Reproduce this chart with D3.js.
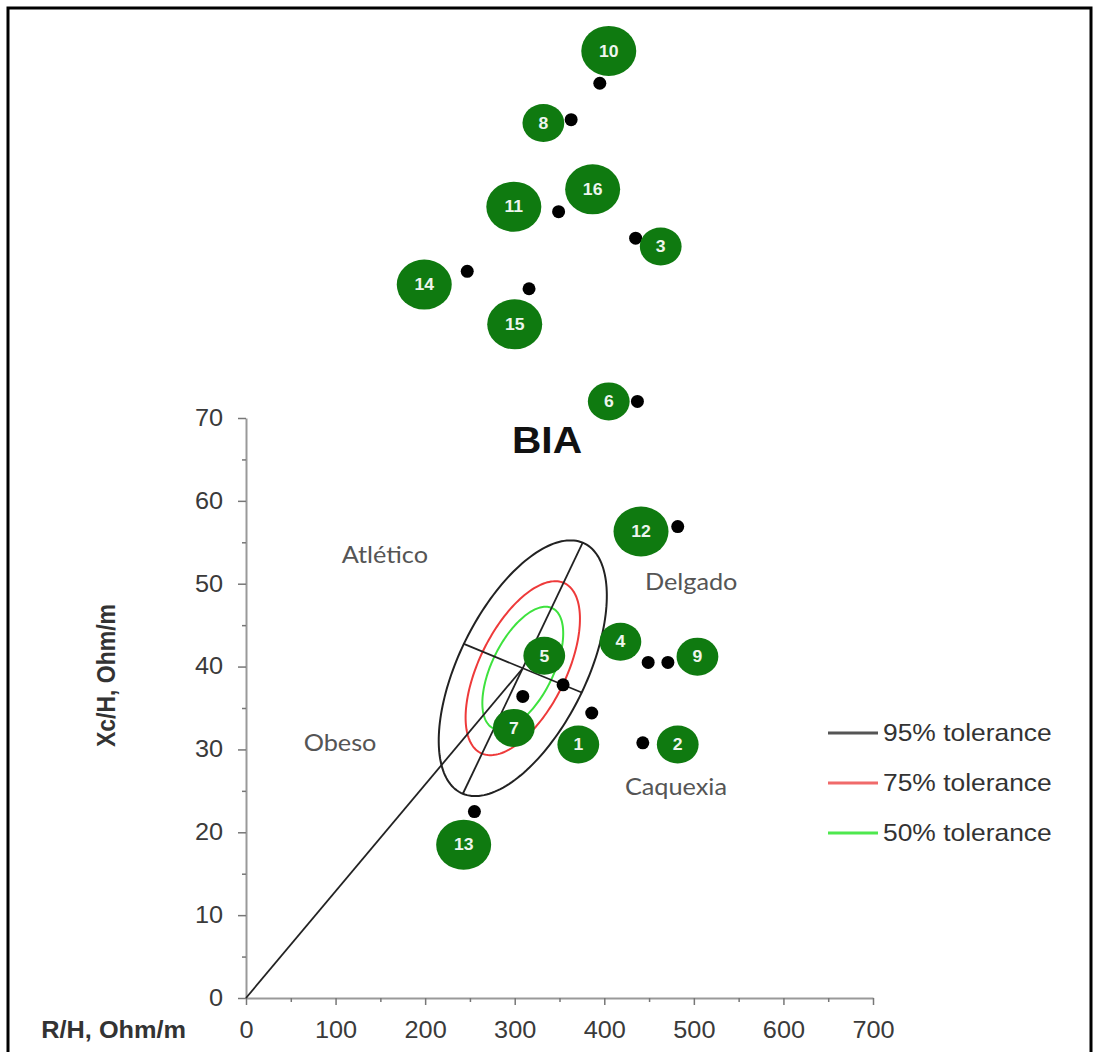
<!DOCTYPE html>
<html>
<head>
<meta charset="utf-8">
<script src="https://cdn.jsdelivr.net/npm/d3@7"></script>
<style>
  body { margin: 0; background: #fff; }
  text { font-family: "Liberation Sans", Arial, sans-serif; }
</style>
</head>
<body>
<div id="chart"></div>
<script>
// BIVA point graph: R/H vs Xc/H per patient, with tolerance ellipses

// measured points (black dots), patient 16 has no visible dot
const patientIds = [1, 2, 3, 4, 5, 6, 7, 8, 9, 10, 11, 12, 13, 14, 15, 16];
const dotRH  = [386, 443, 435, 449, 354, 437, 309, 363, 471, 395, 349, 482, 255, 247, 316, null];
const dotXcH = [34.4, 30.8, 91.7, 40.5, 37.8, 72.0, 36.4, 106.0, 40.5, 110.4, 94.9, 56.9, 22.5, 87.7, 85.6, null];

// where each numbered badge sits (data units)
const labelRH  = [371, 482, 463, 418, 333, 405, 299, 332, 504, 405, 299, 441, 243, 199, 300, 387];
const labelXcH = [30.6, 30.6, 90.7, 43.0, 41.3, 72.0, 32.6, 105.6, 41.2, 114.3, 95.5, 56.3, 18.5, 86.1, 81.3, 97.6];

// reference ellipse (95%), center and conjugate semi-axis end points
const ellipseCenter = [309, 39.8];
const majorAxisEnd = [375.9, 54.95];
const minorAxisEnd = [374.8, 36.87];
const toleranceLevels = [0.95, 0.75, 0.5];
const toleranceNames = ['95% tolerance', '75% tolerance', '50% tolerance'];

// zones
const zoneNames = ['Atlético', 'Delgado', 'Obeso', 'Caquexia'];
const zoneRH  = [155, 497, 105, 480];
const zoneXcH = [53.5, 50.2, 30.8, 25.5];

const xMajorTicks = [0, 100, 200, 300, 400, 500, 600, 700];
const xMinorTicks = [50, 150, 250, 350, 450, 550, 650];
const yMajorTicks = [0, 10, 20, 30, 40, 50, 60, 70];
const yMinorTicks = [5, 15, 25, 35, 45, 55, 65];

const W = 1094, H = 1052;
const SX = 1.1; // picture is slightly stretched sideways
const tolColors = ['#222', '#ee3a3a', '#3ee23e'];
const legendColors = ['#555', '#f06a6a', '#4ee84e'];
const bigBadges = [10, 11, 12, 13, 14, 15, 16];

const svg = d3.select('#chart').append('svg')
	.attr('width', W)
	.attr('height', H);

svg.append('rect').attr('width', W).attr('height', H).attr('fill', '#fff');

// frame
svg.append('path')
	.attr('d', 'M8,' + (H + 5) + 'V8H1091V' + (H + 5))
	.attr('fill', 'none')
	.attr('stroke', '#000')
	.attr('stroke-width', 3);

const x = d3.scaleLinear().domain([0, 700]).range([246, 873]);
const y = d3.scaleLinear().domain([0, 70]).range([998, 418]);

// axes
const yAxis = svg.append('g')
	.attr('transform', 'translate(' + x(0) + ',0)')
	.call(d3.axisLeft(y).tickValues(yMajorTicks).tickSize(8).tickSizeOuter(0));
svg.append('g')
	.attr('transform', 'translate(' + x(0) + ',0)')
	.call(d3.axisLeft(y).tickValues(yMinorTicks).tickSize(4).tickFormat(''))
	.select('.domain').remove();
const xAxis = svg.append('g')
	.attr('transform', 'translate(0,' + y(0) + ')')
	.call(d3.axisBottom(x).tickValues(xMajorTicks).tickSize(7).tickSizeOuter(0));
svg.append('g')
	.attr('transform', 'translate(0,' + y(0) + ')')
	.call(d3.axisBottom(x).tickValues(xMinorTicks).tickSize(4).tickFormat(''))
	.select('.domain').remove();

svg.selectAll('.domain').attr('stroke', '#999').attr('stroke-width', 2);
svg.selectAll('.tick line').attr('stroke', '#777').attr('stroke-width', 1.5);

yAxis.selectAll('text')
	.attr('x', -23 / SX)
	.attr('transform', 'scale(' + SX + ',1)')
	.style('font-size', '23px')
	.attr('fill', '#3a3a3a');
xAxis.selectAll('text')
	.attr('y', 40)
	.attr('dy', 0)
	.attr('transform', 'scale(' + SX + ',1)')
	.style('font-size', '23px')
	.attr('fill', '#3a3a3a');

// axis titles
svg.append('text')
	.attr('transform', 'translate(186,1038) scale(' + SX + ',1)')
	.attr('text-anchor', 'end')
	.style('font-size', '23px')
	.style('font-weight', 'bold')
	.attr('fill', '#333')
	.text('R/H, Ohm/m');
svg.append('text')
	.attr('transform', 'translate(115,747) rotate(-90) scale(1,' + SX + ')')
	.attr('text-anchor', 'start')
	.style('font-size', '23px')
	.style('font-weight', 'bold')
	.attr('fill', '#333')
	.text('Xc/H, Ohm/m');

// title
svg.append('text')
	.attr('transform', 'translate(547,453) scale(' + SX + ',1)')
	.attr('text-anchor', 'middle')
	.style('font-size', '37px')
	.style('font-weight', 'bold')
	.attr('fill', '#111')
	.text('BIA');

// tolerance ellipses, built from the conjugate semi-axes in data space
const A = [majorAxisEnd[0] - ellipseCenter[0], majorAxisEnd[1] - ellipseCenter[1]];
const B = [minorAxisEnd[0] - ellipseCenter[0], minorAxisEnd[1] - ellipseCenter[1]];
const q95 = Math.sqrt(-2 * Math.log(0.05));
const line = d3.line().x(d => x(d[0])).y(d => y(d[1])).curve(d3.curveLinearClosed);

toleranceLevels.forEach(function(p, i) {
	const k = Math.sqrt(-2 * Math.log(1 - p)) / q95;
	const pts = d3.range(0, 2 * Math.PI, Math.PI / 90).map(t => [
		ellipseCenter[0] + k * (Math.cos(t) * A[0] + Math.sin(t) * B[0]),
		ellipseCenter[1] + k * (Math.cos(t) * A[1] + Math.sin(t) * B[1])
	]);
	svg.append('path')
		.attr('d', line(pts))
		.attr('fill', 'none')
		.attr('stroke', tolColors[i])
		.attr('stroke-width', 2);
});

// ellipse axes and vector from origin
const segs = [
	[[ellipseCenter[0] - A[0], ellipseCenter[1] - A[1]], majorAxisEnd],
	[[ellipseCenter[0] - B[0], ellipseCenter[1] - B[1]], minorAxisEnd],
	[[0, 0], ellipseCenter]
];
svg.selectAll('.seg')
	.data(segs)
	.enter()
	.append('line')
	.attr('x1', d => x(d[0][0]))
	.attr('y1', d => y(d[0][1]))
	.attr('x2', d => x(d[1][0]))
	.attr('y2', d => y(d[1][1]))
	.attr('stroke', '#222')
	.attr('stroke-width', 1.8);

// zone names
svg.selectAll('.zone')
	.data(zoneNames)
	.enter()
	.append('text')
	.attr('transform', (d, i) => 'translate(' + x(zoneRH[i]) + ',' + y(zoneXcH[i]) + ') scale(' + SX + ',1)')
	.attr('text-anchor', 'middle')
	.attr('dy', '0.35em')
	.style('font-family', 'Lato, "Open Sans", sans-serif')
	.style('font-size', '23px')
	.attr('fill', '#555')
	.text(d => d);

// black dots
const dots = patientIds.map((id, i) => ({id: id, rh: dotRH[i], xc: dotXcH[i]}))
	.filter(d => d.rh !== null);
svg.selectAll('.dot')
	.data(dots)
	.enter()
	.append('circle')
	.attr('cx', d => x(d.rh))
	.attr('cy', d => y(d.xc))
	.attr('r', 6.5)
	.attr('fill', '#000');

// numbered badges
const badges = svg.selectAll('.badge')
	.data(patientIds)
	.enter()
	.append('g')
	.attr('transform', (d, i) => 'translate(' + x(labelRH[i]) + ',' + y(labelXcH[i]) + ')');
badges.append('ellipse')
	.attr('rx', d => (bigBadges.includes(d) ? 25 : 19) * SX)
	.attr('ry', d => bigBadges.includes(d) ? 25 : 19)
	.attr('fill', '#0f7a10');
badges.append('text')
	.attr('transform', 'scale(' + SX + ',1)')
	.attr('text-anchor', 'middle')
	.attr('dy', '0.36em')
	.style('font-size', '16px')
	.style('font-weight', 'bold')
	.attr('fill', '#eef5ee')
	.text(d => d);

// legend
const legend = svg.selectAll('.legend')
	.data(toleranceNames)
	.enter()
	.append('g')
	.attr('transform', (d, i) => 'translate(828,' + (733 + i * 50) + ')');
legend.append('line')
	.attr('x1', 0)
	.attr('x2', 50)
	.attr('stroke', (d, i) => legendColors[i])
	.attr('stroke-width', 3);
legend.append('text')
	.attr('transform', 'translate(55,0) scale(' + SX + ',1)')
	.attr('dy', '0.35em')
	.style('font-size', '24px')
	.attr('fill', '#333')
	.text(d => d);
</script>
</body>
</html>
